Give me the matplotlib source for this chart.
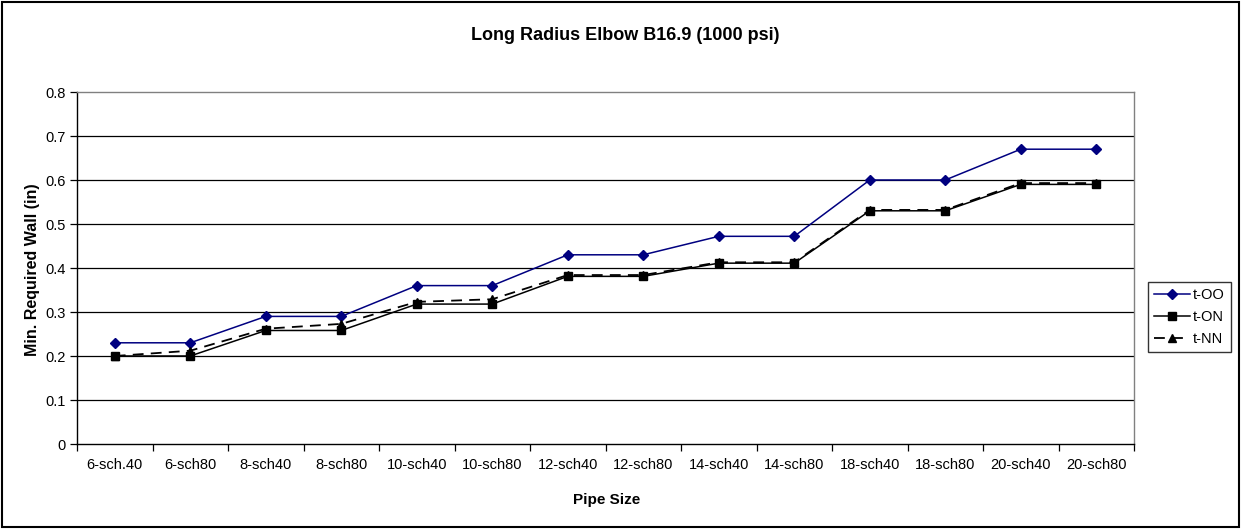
import matplotlib
matplotlib.use("Agg")
import matplotlib.pyplot as plt
import numpy as np
from matplotlib.patches import Rectangle

categories = ["6-sch.40", "6-sch80", "8-sch40", "8-sch80", "10-sch40", "10-sch80",
              "12-sch40", "12-sch80", "14-sch40", "14-sch80", "18-sch40", "18-sch80",
              "20-sch40", "20-sch80"]
t_OO = [0.23, 0.23, 0.29, 0.29, 0.36, 0.36, 0.43, 0.43, 0.472, 0.472, 0.60, 0.60, 0.67, 0.67]
t_ON = [0.20, 0.20, 0.258, 0.258, 0.318, 0.318, 0.381, 0.381, 0.411, 0.411, 0.53, 0.53, 0.59, 0.59]
t_NN = [0.20, 0.212, 0.262, 0.273, 0.323, 0.329, 0.384, 0.384, 0.413, 0.413, 0.532, 0.532, 0.593, 0.593]
y_ticks = [0, 0.1, 0.2, 0.3, 0.4, 0.5, 0.6, 0.7, 0.8]

plt.rcParams['font.family'] = ['Liberation Sans', 'DejaVu Sans']

W, H = 1241, 529
fig = plt.figure(figsize=(W / 100, H / 100), dpi=100)
fig.patch.set_facecolor('white')

L, R, T, B = 77, 1134, 92, 444
ax = fig.add_axes([L / W, 1 - B / H, (R - L) / W, (B - T) / H])

x = np.arange(len(categories))
ax.set_xlim(-0.5, len(categories) - 0.5)
ax.set_ylim(0, 0.8)

for yv in y_ticks[1:-1]:
    ax.axhline(yv, color='black', lw=0.9, zorder=1)

l1, = ax.plot(x, t_OO, color='#000080', lw=1.1, marker='D', ms=5.5,
              mfc='#000080', mec='#000080', label='t-OO', zorder=3)
l2, = ax.plot(x, t_ON, color='black', lw=1.1, marker='s', ms=6,
              mfc='black', mec='black', label='t-ON', zorder=4)
l3, = ax.plot(x, t_NN, color='black', lw=1.3, ls=(0, (6, 4)), marker='^', ms=6,
              mfc='black', mec='black', label='t-NN', zorder=5)

ax.set_yticks(y_ticks)
ax.set_yticklabels([f"{v:g}" for v in y_ticks], fontsize=10.5)
ax.set_xticks(np.arange(-0.5, len(categories), 1))
ax.set_xticklabels([])
ax.set_xticks(x, minor=True)
ax.set_xticklabels(categories, minor=True, fontsize=10.5)
ax.tick_params(axis='x', which='minor', length=0, pad=10)
ax.tick_params(axis='x', which='major', length=5, direction='out', width=0.9)
ax.tick_params(axis='y', length=5, direction='out', width=0.9, pad=3)

for s in ['top', 'right']:
    ax.spines[s].set_color('#808080')
    ax.spines[s].set_linewidth(1.0)
for s in ['left', 'bottom']:
    ax.spines[s].set_color('black')
    ax.spines[s].set_linewidth(1.0)

fig.text(625 / W, 1 - 35 / H, "Long Radius Elbow B16.9 (1000 psi)", ha='center',
         va='center', fontsize=13, fontweight='bold')
fig.text(607 / W, 1 - 500 / H, "Pipe Size", ha='center', va='center',
         fontsize=11, fontweight='bold')
fig.text(33 / W, 1 - 270 / H, "Min. Required Wall (in)", ha='center', va='center',
         rotation=90, fontsize=11.5, fontweight='bold')

leg = fig.legend(handles=[l1, l2, l3], loc='upper left',
                 bbox_to_anchor=(1148 / W, 1 - 282 / H), frameon=True,
                 fancybox=False, edgecolor='black', fontsize=10.5,
                 handlelength=2.5, handletextpad=0.2, borderpad=0.4,
                 labelspacing=0.55, borderaxespad=0)
leg.get_frame().set_linewidth(1.0)

fig.patches.append(Rectangle((2 / W, 2 / H), (W - 4) / W, (H - 4) / H,
                             transform=fig.transFigure, fill=False,
                             edgecolor='black', lw=1.5))

fig.savefig("out.png", dpi=100)
